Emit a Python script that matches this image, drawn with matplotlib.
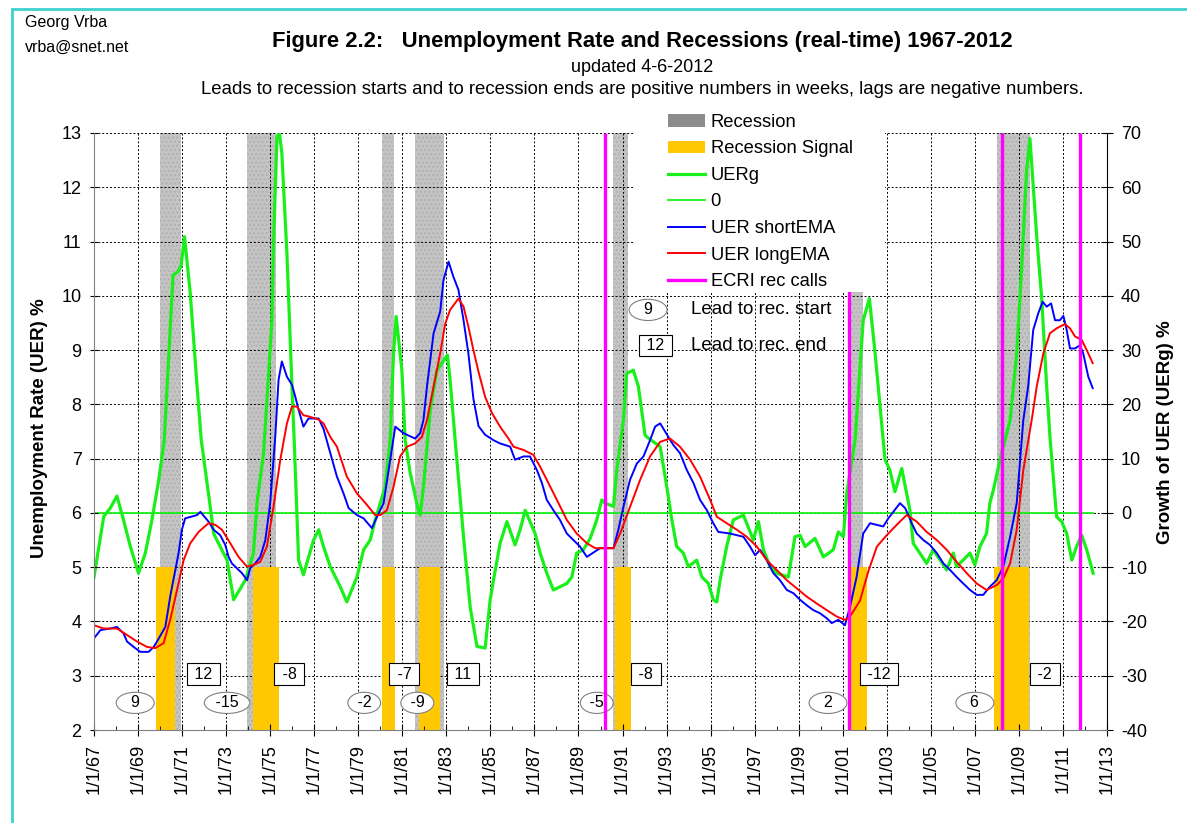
"""
plot.py - Figure 2.2: Unemployment Rate and Recessions (real-time) 1967-2012
Values read off the published chart (weekly series, sampled by eye).
"""
import matplotlib
matplotlib.use("Agg")
import matplotlib.pyplot as plt
from matplotlib.patches import Patch, Rectangle
from matplotlib.lines import Line2D

plt.rcParams['font.family'] = ['Liberation Sans', 'DejaVu Sans']
plt.rcParams['axes.unicode_minus'] = False

# ---- recession periods (NBER) and recession signals ----
rec_start = [1970.00, 1973.95, 1980.07, 1981.58, 1990.59, 2001.31, 2007.99]
rec_end = [1970.95, 1975.26, 1980.63, 1982.91, 1991.27, 2001.92, 2009.50]

sig_start = [1969.81, 1974.24, 1980.10, 1981.78, 1990.66, 2001.23, 2007.85]
sig_end = [1970.69, 1975.38, 1980.69, 1982.69, 1991.39, 2002.12, 2009.47]
sig_level = -10          # top of signal bars, UERg axis (= 5 % UER)

ecri_calls = [1990.21, 2001.29, 2008.24, 2011.77]

# ---- leads (weeks) ----
start_lead_x = [1968.87, 1973.04, 1979.27, 1981.68, 1989.83, 2000.33, 2007.00]
start_lead = ['9', '-15', '-2', '-9', '-5', '2', '6']
end_lead_x = [1971.95, 1975.87, 1981.09, 1983.76, 1992.06, 2002.64, 2010.18]
end_lead = ['12', '-8', '-7', '11', '-8', '-12', '-2']

# ---- UERg, growth of UER (%), right axis ----
uerg_t = [1967.00, 1967.44, 1967.74, 1968.04, 1968.34, 1968.65, 1969.02, 1969.33,
          1969.63, 1969.93, 1970.19, 1970.59, 1970.79, 1970.95, 1971.11, 1971.37,
          1971.68, 1971.87, 1972.28, 1972.43, 1973.04, 1973.34, 1973.87, 1974.24,
          1974.40, 1974.70, 1975.08, 1975.15, 1975.31, 1975.42, 1975.53, 1975.76,
          1975.99, 1976.09, 1976.29, 1976.51, 1976.97, 1977.20, 1977.42, 1977.73,
          1978.18, 1978.48, 1978.94, 1979.24, 1979.54, 1979.77, 1980.00, 1980.22,
          1980.45, 1980.60, 1980.72, 1980.98, 1981.13, 1981.36, 1981.73, 1981.81,
          1981.96, 1982.12, 1982.27, 1982.57, 1982.80, 1983.05, 1983.17, 1983.40,
          1983.78, 1984.08, 1984.39, 1984.76, 1984.99, 1985.14, 1985.44, 1985.75,
          1986.12, 1986.35, 1986.58, 1987.03, 1987.26, 1987.56, 1987.86, 1988.47,
          1988.70, 1988.92, 1989.22, 1989.53, 1989.83, 1990.06, 1990.21, 1990.59,
          1990.74, 1991.04, 1991.19, 1991.49, 1991.72, 1992.02, 1992.10, 1992.71,
          1993.01, 1993.24, 1993.46, 1993.76, 1993.99, 1994.37, 1994.60, 1994.90,
          1995.12, 1995.28, 1995.43, 1995.73, 1996.03, 1996.49, 1996.94, 1997.17,
          1997.40, 1997.70, 1998.00, 1998.53, 1998.83, 1999.06, 1999.29, 1999.74,
          2000.12, 2000.57, 2000.80, 2001.03, 2001.18, 2001.56, 2001.93, 2002.21,
          2002.47, 2002.84, 2002.92, 2003.14, 2003.37, 2003.68, 2004.05, 2004.20,
          2004.50, 2004.81, 2005.11, 2005.72, 2006.02, 2006.17, 2006.78, 2007.00,
          2007.23, 2007.53, 2007.68, 2007.84, 2008.14, 2008.37, 2008.60, 2008.90,
          2009.12, 2009.35, 2009.50, 2009.81, 2010.03, 2010.26, 2010.41, 2010.56,
          2010.71, 2010.94, 2011.17, 2011.40, 2011.62, 2011.85, 2012.08, 2012.37]
uerg_v = [-11.8, -0.7, 0.9, 3.1, -1.3, -6.2, -11.1, -7.4,
          -1.3, 5.8, 13.4, 43.8, 44.4, 45.4, 50.9, 40.5,
          23.3, 13.4, 1.1, -3.8, -8.7, -16.0, -12.4, -7.4,
          1.8, 11.0, 35.5, 49.7, 69.3, 70.0, 66.3, 47.8,
          23.3, 13.4, -8.7, -11.4, -5.0, -3.1, -6.2, -9.9,
          -13.6, -16.4, -11.8, -6.8, -5.0, -1.3, 1.8, 4.8,
          13.4, 29.4, 36.2, 26.3, 13.4, 7.3, 0.5, -0.4,
          4.8, 12.2, 19.0, 26.3, 27.6, 29.1, 24.5, 13.4,
          -4.4, -17.3, -24.6, -24.9, -16.0, -12.4, -5.6, -1.6,
          -5.9, -3.1, 0.5, -3.8, -7.4, -11.1, -14.2, -13.0,
          -11.8, -7.4, -6.8, -4.7, -1.3, 2.4, 1.8, 1.2,
          7.9, 17.1, 25.7, 26.3, 23.3, 14.4, 14.0, 12.2,
          4.8, -1.3, -6.2, -7.4, -9.9, -8.7, -11.8, -13.0,
          -16.0, -16.4, -12.4, -6.2, -1.3, -0.4, -5.0, -1.6,
          -6.8, -9.9, -11.1, -11.8, -4.4, -4.1, -6.2, -4.7,
          -8.1, -6.8, -3.5, -4.4, 3.6, 13.4, 35.5, 39.5,
          29.4, 13.4, 9.8, 7.9, 3.9, 8.2, 0.5, -5.6,
          -7.4, -9.3, -6.8, -10.5, -7.4, -9.9, -7.4, -9.6,
          -6.2, -3.8, 1.8, 4.2, 9.8, 13.4, 17.1, 29.4,
          44.8, 63.2, 69.0, 50.9, 39.8, 23.3, 14.0, 6.7,
          -0.7, -1.6, -3.8, -8.7, -6.2, -4.1, -6.8, -11.1]

# ---- UER short EMA (%), left axis ----
short_t = [1967.00, 1967.29, 1967.74, 1968.04, 1968.34, 1968.50, 1968.80, 1969.10,
           1969.48, 1969.71, 1969.86, 1970.24, 1970.46, 1970.69, 1970.84, 1970.99,
           1971.14, 1971.68, 1971.83, 1972.20, 1972.43, 1972.73, 1972.96, 1973.11,
           1973.26, 1973.49, 1973.72, 1973.95, 1974.09, 1974.32, 1974.55, 1974.78,
           1975.00, 1975.23, 1975.38, 1975.53, 1975.76, 1975.99, 1976.14, 1976.29,
           1976.51, 1976.74, 1976.97, 1977.20, 1977.42, 1977.73, 1978.03, 1978.33,
           1978.56, 1978.94, 1979.24, 1979.62, 1979.85, 1980.15, 1980.45, 1980.68,
           1981.05, 1981.58, 1981.81, 1981.96, 1982.12, 1982.42, 1982.72, 1982.87,
           1983.10, 1983.32, 1983.55, 1983.78, 1984.00, 1984.23, 1984.46, 1984.76,
           1985.14, 1985.44, 1985.90, 1986.12, 1986.50, 1986.80, 1987.11, 1987.34,
           1987.56, 1987.86, 1988.16, 1988.47, 1988.77, 1989.07, 1989.38, 1989.98,
           1990.21, 1990.59, 1990.81, 1991.04, 1991.34, 1991.65, 1991.95, 1992.25,
           1992.48, 1992.71, 1993.08, 1993.31, 1993.61, 1993.92, 1994.22, 1994.52,
           1994.83, 1995.12, 1995.35, 1995.88, 1996.19, 1996.49, 1996.79, 1997.02,
           1997.25, 1997.55, 1997.85, 1998.15, 1998.46, 1998.76, 1999.06, 1999.36,
           1999.66, 1999.97, 2000.27, 2000.50, 2000.80, 2001.10, 2001.33, 2001.63,
           2001.93, 2002.24, 2002.84, 2003.07, 2003.60, 2003.83, 2003.98, 2004.13,
           2004.36, 2004.66, 2004.96, 2005.27, 2005.57, 2005.87, 2006.17, 2006.47,
           2006.78, 2007.08, 2007.38, 2007.68, 2007.99, 2008.29, 2008.60, 2008.90,
           2009.20, 2009.42, 2009.65, 2009.88, 2010.08, 2010.26, 2010.46, 2010.64,
           2010.86, 2011.02, 2011.17, 2011.32, 2011.55, 2011.77, 2011.92, 2012.15,
           2012.35]
short_v = [3.69, 3.84, 3.87, 3.90, 3.78, 3.63, 3.53, 3.44,
           3.44, 3.53, 3.63, 3.90, 4.46, 4.95, 5.26, 5.69,
           5.90, 5.96, 6.02, 5.84, 5.69, 5.59, 5.41, 5.19,
           5.07, 4.98, 4.89, 4.76, 4.98, 5.07, 5.19, 5.50,
           6.18, 7.40, 8.45, 8.79, 8.51, 8.36, 8.14, 7.90,
           7.59, 7.74, 7.74, 7.74, 7.55, 7.10, 6.67, 6.36,
           6.09, 5.96, 5.90, 5.72, 5.93, 6.18, 6.98, 7.59,
           7.47, 7.37, 7.47, 7.71, 8.33, 9.31, 9.71, 10.29,
           10.63, 10.35, 10.11, 9.55, 8.94, 8.10, 7.60, 7.44,
           7.34, 7.28, 7.22, 6.98, 7.04, 7.04, 6.79, 6.55,
           6.24, 6.05, 5.87, 5.62, 5.50, 5.38, 5.19, 5.35,
           5.35, 5.35, 5.69, 6.11, 6.61, 6.91, 7.04, 7.34,
           7.59, 7.65, 7.40, 7.25, 7.10, 6.79, 6.55, 6.24,
           6.05, 5.81, 5.65, 5.62, 5.59, 5.56, 5.38, 5.22,
           5.32, 5.13, 4.89, 4.76, 4.58, 4.52, 4.40, 4.30,
           4.21, 4.15, 4.06, 3.97, 4.03, 3.93, 4.27, 4.82,
           5.62, 5.81, 5.75, 5.90, 6.18, 6.09, 5.96, 5.81,
           5.62, 5.50, 5.41, 5.26, 5.07, 4.95, 4.82, 4.70,
           4.58, 4.49, 4.49, 4.64, 4.76, 5.01, 5.56, 6.18,
           7.71, 8.33, 9.37, 9.68, 9.89, 9.80, 9.86, 9.55,
           9.55, 9.63, 9.37, 9.03, 9.03, 9.09, 8.94, 8.51,
           8.30]

# ---- UER long EMA (%), left axis ----
long_t = [1967.00, 1967.44, 1968.04, 1968.50, 1968.95, 1969.41, 1969.78, 1970.16,
          1970.46, 1970.77, 1971.07, 1971.37, 1971.75, 1972.20, 1972.51, 1972.81,
          1973.19, 1973.56, 1973.95, 1974.24, 1974.55, 1974.85, 1975.15, 1975.46,
          1975.76, 1975.99, 1976.21, 1976.51, 1976.82, 1977.20, 1977.42, 1977.73,
          1978.03, 1978.48, 1978.94, 1979.39, 1979.77, 1980.00, 1980.30, 1980.60,
          1980.90, 1981.21, 1981.58, 1981.89, 1982.12, 1982.42, 1982.72, 1982.95,
          1983.17, 1983.55, 1983.78, 1984.00, 1984.23, 1984.46, 1984.76, 1985.07,
          1985.44, 1985.82, 1986.05, 1986.50, 1986.95, 1987.26, 1987.56, 1988.02,
          1988.47, 1988.92, 1989.38, 1989.76, 1990.13, 1990.59, 1990.89, 1991.34,
          1991.80, 1992.25, 1992.71, 1993.16, 1993.61, 1994.07, 1994.52, 1994.98,
          1995.28, 1995.73, 1996.19, 1996.64, 1997.10, 1997.55, 1998.00, 1998.46,
          1998.91, 1999.36, 1999.82, 2000.27, 2000.73, 2001.10, 2001.33, 2001.78,
          2002.16, 2002.55, 2003.00, 2003.45, 2003.90, 2004.36, 2004.81, 2005.27,
          2005.72, 2006.17, 2006.63, 2007.08, 2007.53, 2007.99, 2008.29, 2008.60,
          2008.90, 2009.20, 2009.58, 2009.81, 2010.11, 2010.41, 2010.71, 2011.09,
          2011.32, 2011.55, 2011.85, 2012.08, 2012.35]
long_v = [3.93, 3.87, 3.87, 3.75, 3.63, 3.53, 3.51, 3.60,
          4.03, 4.58, 5.13, 5.44, 5.65, 5.81, 5.78, 5.69,
          5.44, 5.19, 5.01, 5.04, 5.10, 5.38, 6.11, 6.98,
          7.65, 7.96, 7.96, 7.80, 7.77, 7.72, 7.65, 7.40,
          7.22, 6.67, 6.36, 6.15, 5.96, 5.96, 6.05, 6.48,
          7.04, 7.22, 7.28, 7.40, 7.71, 8.33, 8.94, 9.49,
          9.74, 9.95, 9.80, 9.43, 9.00, 8.60, 8.14, 7.84,
          7.59, 7.37, 7.22, 7.16, 7.07, 6.85, 6.61, 6.24,
          5.87, 5.62, 5.44, 5.35, 5.35, 5.35, 5.62, 6.11,
          6.61, 7.04, 7.31, 7.37, 7.22, 6.98, 6.67, 6.24,
          5.93, 5.81, 5.69, 5.56, 5.38, 5.13, 4.95, 4.76,
          4.61, 4.46, 4.33, 4.21, 4.09, 4.03, 4.09, 4.38,
          4.92, 5.38, 5.59, 5.78, 5.96, 5.84, 5.65, 5.50,
          5.32, 5.10, 4.89, 4.70, 4.58, 4.67, 4.79, 5.07,
          5.69, 6.79, 7.71, 8.33, 8.94, 9.31, 9.40, 9.48,
          9.40, 9.25, 9.19, 9.00, 8.76]

tick_years = list(range(1967, 2014, 2))
tick_labels = [f"1/1/{y % 100:02d}" for y in tick_years]

GREEN = '#19f019'
BLUE = '#0000ff'
RED = '#ff0000'
MAGENTA = '#ff00ff'
GOLD = '#ffc800'
GRAY = '#c4c4c4'


def main():
    fig = plt.figure(figsize=(11.87, 8.23), dpi=100)
    ax = fig.add_axes([0.0792, 0.1130, 0.8534, 0.7254])
    ax2 = ax.twinx()
    ax.set_zorder(ax2.get_zorder() + 1)
    ax.patch.set_visible(False)

    ax.set_xlim(1967, 2013)
    ax.set_ylim(2, 13)
    ax2.set_ylim(-40, 70)

    # recessions, signals, grid and UERg on the lower (right-axis) layer
    for s, e in zip(rec_start, rec_end):
        ax2.axvspan(s, e, facecolor=GRAY, edgecolor='#b0b0b0', hatch='....',
                    lw=0, zorder=0.5)
    for s, e in zip(sig_start, sig_end):
        ax2.bar(s, sig_level + 40, width=e - s, bottom=-40, align='edge',
                color=GOLD, lw=0, zorder=1.6)
    ax2.xaxis.set_visible(True)
    ax2.tick_params(axis='x', which='both', bottom=False, top=False,
                    labelbottom=False, labeltop=False)
    ax2.grid(True, color='black', linestyle=(0, (2, 2)), lw=0.7)
    ax2.plot(uerg_t, uerg_v, color=GREEN, lw=2.3, zorder=2)
    ax2.plot([uerg_t[0], uerg_t[-1]], [0, 0], color=GREEN, lw=1.3, zorder=2)

    # EMAs and ECRI calls on the upper (left-axis) layer
    ax.plot(short_t, short_v, color=BLUE, lw=1.4, zorder=2)
    ax.plot(long_t, long_v, color=RED, lw=1.4, zorder=2)
    ax.vlines(ecri_calls, 2, 13, color=MAGENTA, lw=2.4, zorder=3)

    for x, s in zip(start_lead_x, start_lead):
        ax.text(x, 2.5, f" {s} " if len(s) > 1 else f"  {s}  ", ha='center', va='center',
                fontsize=11.5, zorder=2.5,
                bbox=dict(boxstyle='ellipse,pad=0', fc='white', ec='#808080', lw=0.8))
    for x, s in zip(end_lead_x, end_lead):
        ax.text(x, 3.03, f" {s} ", ha='center', va='center', fontsize=11.5, zorder=2.5,
                bbox=dict(boxstyle='square,pad=0.2', fc='white', ec='black', lw=0.8))

    # white panel behind the legend
    ax.add_patch(Rectangle((0.534, 0.734), 0.247, 0.32, transform=ax.transAxes,
                           facecolor='white', edgecolor='none', zorder=4, clip_on=False))
    handles = [Patch(facecolor='#8c8c8c', label='Recession'),
               Patch(facecolor=GOLD, label='Recession Signal'),
               Line2D([], [], color=GREEN, lw=2.3, label='UERg'),
               Line2D([], [], color=GREEN, lw=1.3, label='0'),
               Line2D([], [], color=BLUE, lw=1.4, label='UER shortEMA'),
               Line2D([], [], color=RED, lw=1.4, label='UER longEMA'),
               Line2D([], [], color=MAGENTA, lw=2.4, label='ECRI rec calls')]
    leg = ax.legend(handles=handles, loc='upper left', bbox_to_anchor=(0.567, 1.032),
                    frameon=False, fontsize=13.2, handlelength=2.0, handletextpad=0.3,
                    labelspacing=0.52, borderpad=0, borderaxespad=0)
    leg.set_zorder(5)

    ax.text(1992.16, 9.74, "  9  ", ha='center', va='center', fontsize=11.5, zorder=5,
            bbox=dict(boxstyle='ellipse,pad=0', fc='white', ec='#808080', lw=0.8))
    ax.text(1994.12, 9.74, "Lead to rec. start", ha='left', va='center', fontsize=13.5, zorder=5)
    ax.text(1992.48, 9.08, " 12 ", ha='center', va='center', fontsize=11.5, zorder=5,
            bbox=dict(boxstyle='square,pad=0.2', fc='white', ec='black', lw=0.8))
    ax.text(1994.12, 9.08, "Lead to rec. end", ha='left', va='center', fontsize=13.5, zorder=5)

    # axes cosmetics
    ax.set_xticks(tick_years)
    ax.set_xticklabels(tick_labels, rotation=90)
    ax.set_xticks(range(1967, 2014), minor=True)
    ax.tick_params(axis='x', which='major', direction='inout', length=8, labelsize=13, pad=6)
    ax.tick_params(axis='x', which='minor', direction='in', length=3)
    ax.set_yticks(range(2, 14))
    ax.tick_params(axis='y', direction='inout', length=6, labelsize=13, pad=6)
    ax2.set_yticks(range(-40, 71, 10))
    ax2.tick_params(axis='y', direction='inout', length=8, labelsize=13, pad=6)

    for a in (ax, ax2):
        a.spines['top'].set_visible(False)
    ax.spines['right'].set_visible(False)
    ax2.spines['left'].set_visible(False)
    ax2.spines['bottom'].set_visible(False)
    ax.spines['left'].set_color('#808080')
    ax.spines['bottom'].set_color('#808080')

    fig.text(40 / 1187, 1 - 428 / 823, "Unemployment Rate (UER) %", rotation=90,
             ha='center', va='center', fontsize=13.5, fontweight='bold')
    fig.text(1166 / 1187, 1 - 432 / 823, "Growth of UER (UERg) %", rotation=90,
             ha='center', va='center', fontsize=13.5, fontweight='bold')

    # titles and header
    fig.text(25 / 1187, 1 - 22 / 823, "Georg Vrba", ha='left', va='center', fontsize=11.5)
    fig.text(25 / 1187, 1 - 47 / 823, "vrba@snet.net", ha='left', va='center', fontsize=11.5)
    fig.text(642 / 1187, 1 - 42 / 823,
             "Figure 2.2:   Unemployment Rate and Recessions (real-time) 1967-2012",
             ha='center', va='center', fontsize=15.8, fontweight='bold')
    fig.text(642 / 1187, 1 - 67 / 823, "updated 4-6-2012", ha='center', va='center', fontsize=13)
    fig.text(642 / 1187, 1 - 89 / 823,
             "Leads to recession starts and to recession ends are positive numbers in weeks, "
             "lags are negative numbers.", ha='center', va='center', fontsize=13.4)

    fig.patches.append(Rectangle((12 / 1187, -0.1), 1.2, 1.1 - 9 / 823,
                                 transform=fig.transFigure, fill=False,
                                 edgecolor='#40d0d0', lw=2))

    fig.savefig("out.png", dpi=100)
    plt.close(fig)


if __name__ == "__main__":
    main()
